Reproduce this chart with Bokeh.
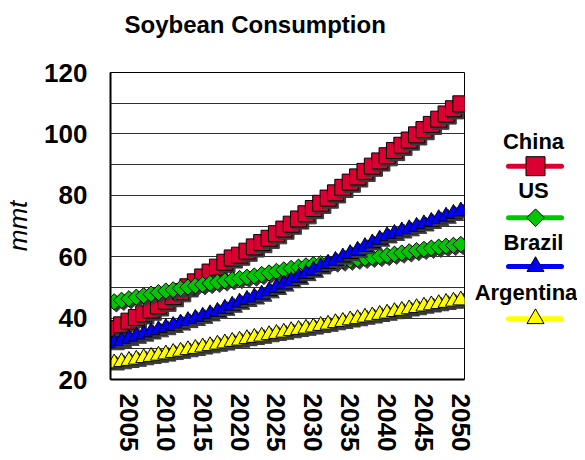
from math import pi
from bokeh.plotting import figure
from bokeh.models import Range1d, FixedTicker, ColumnDataSource
from bokeh.layouts import row
from bokeh.embed import file_html
from bokeh.resources import INLINE
from bokeh.core.properties import value

# ---------------- data ----------------
years = list(range(2003, 2051))
china = [36.6, 37.8, 39.0, 40.2, 41.4, 42.6, 44.0, 45.5, 47.0, 48.6,
         50.2, 51.8, 53.4, 55.0, 56.6, 58.2, 59.6, 60.5, 61.8, 63.2,
         64.6, 66.0, 67.5, 69.0, 70.6, 72.3, 74.0, 75.7, 77.4, 79.1,
         80.8, 82.6, 84.3, 86.0, 87.8, 89.5, 91.2, 92.9, 94.6, 96.3,
         98.0, 99.7, 101.4, 103.1, 104.8, 106.5, 108.2, 109.8]
us = [45.3, 45.8, 46.3, 46.8, 47.3, 47.8, 48.3, 48.8, 49.2, 49.7,
      50.1, 50.5, 50.9, 51.3, 51.7, 52.1, 52.5, 52.9, 53.3, 53.7,
      54.2, 54.7, 55.2, 55.7, 56.2, 56.6, 57.0, 57.4, 57.7, 58.0,
      58.3, 58.6, 58.9, 59.2, 59.5, 59.8, 60.1, 60.4, 60.8, 61.2,
      61.6, 62.0, 62.4, 62.8, 63.1, 63.4, 63.7, 64.0]
brazil = [31.9, 32.6, 33.3, 34.0, 34.7, 35.4, 36.1, 36.8, 37.5, 38.3,
          39.1, 39.8, 40.5, 41.3, 42.1, 43.1, 44.1, 45.1, 46.0, 46.8,
          47.7, 48.8, 49.9, 51.0, 52.1, 53.2, 54.4, 55.5, 56.6, 57.7,
          58.7, 59.8, 60.9, 62.0, 63.2, 64.4, 65.6, 66.7, 67.5, 68.3,
          69.0, 69.8, 70.6, 71.4, 72.3, 73.1, 74.0, 74.8]
argentina = [25.3, 25.7, 26.1, 26.5, 27.0, 27.4, 27.8, 28.2, 28.7, 29.1,
             29.6, 30.0, 30.5, 30.9, 31.4, 31.8, 32.3, 32.7, 33.2, 33.6,
             34.0, 34.5, 34.9, 35.3, 35.8, 36.2, 36.6, 37.0, 37.5, 37.9,
             38.4, 38.8, 39.3, 39.7, 40.2, 40.6, 41.1, 41.5, 42.0, 42.4,
             42.9, 43.3, 43.8, 44.2, 44.6, 45.0, 45.4, 45.8]
series_names = ["China", "US", "Brazil", "Argentina"]
series_values = [china, us, brazil, argentina]
series_colors = ["#DC0032", "#00C800", "#0000FF", "#FFFF00"]
x_ticks = list(range(2005, 2051, 5))
y_ticks = [20, 40, 60, 80, 100, 120]
grid_ticks = list(range(20, 121, 10))
title_text = "Soybean Consumption"
y_label = "mmt"

# ---------------- style ----------------
FONT = "Liberation Sans"
markers = ["square", "square", "triangle", "triangle"]
angles = [0.0, pi / 4, 0.0, 0.0]
sizes = [16, 11.5, 16, 16]
leg_sizes = [19, 12.5, 17, 17]
SHADOW = "#3a3a3a"
H = 458

p = figure(width=474, height=H,
           x_range=Range1d(2002.5, 2050.5), y_range=Range1d(20, 120),
           output_backend="svg", toolbar_location=None,
           min_border_left=102, min_border_right=10,
           min_border_top=71, min_border_bottom=79)
p.background_fill_color = "white"
p.border_fill_color = "white"
p.outline_line_color = "black"
p.outline_line_width = 1

# a blank second line lifts the title towards the top of the page
p.title.text = title_text + "\n "
p.title.text_font = FONT
p.title.text_font_size = "24px"
p.title.text_font_style = "bold"
p.title.text_color = "black"
p.title.align = "left"
p.title.offset = 14
p.title.standoff = 16
p.title.vertical_align = "bottom"

p.xgrid.grid_line_color = None
p.ygrid.ticker = FixedTicker(ticks=grid_ticks)
p.ygrid.grid_line_color = "#303030"
p.ygrid.grid_line_width = 1

for ax in (p.xaxis[0], p.yaxis[0]):
    ax.axis_line_color = "black"
    ax.axis_line_width = 2
    ax.major_tick_line_color = None
    ax.minor_tick_line_color = None
    ax.major_label_text_font = FONT
    ax.major_label_text_font_size = "26px"
    ax.major_label_text_font_style = "bold"
    ax.major_label_text_color = "black"

p.yaxis.ticker = FixedTicker(ticks=y_ticks)
p.yaxis.major_label_standoff = 17
p.yaxis.axis_label = y_label
p.yaxis.axis_label_text_font = FONT
p.yaxis.axis_label_text_font_size = "26px"
p.yaxis.axis_label_text_font_style = "italic"
p.yaxis.axis_label_text_color = "black"
p.yaxis.axis_label_standoff = 8

p.xaxis.ticker = FixedTicker(ticks=x_ticks)
p.xaxis.major_label_orientation = "vertical"
p.xaxis.major_label_standoff = 8

dx, dy = 0.3, -0.7
for vals, col, mk, ang, sz in zip(series_values, series_colors, markers, angles, sizes):
    p.line(years, vals, line_color=col, line_width=3)
    X, Y, F, L = [], [], [], []
    for x, y in zip(years, vals):
        X += [x + dx, x]
        Y += [y + dy, y]
        F += [SHADOW, col]
        L += [SHADOW, "black"]
    src = ColumnDataSource(dict(x=X, y=Y, f=F, l=L))
    p.scatter("x", "y", source=src, marker=mk, angle=ang, size=sz,
              fill_color="f", line_color="l", line_width=1)

# ---------------- legend panel (frame aligned with the main plot's frame) ----------------
LW = 103
leg = figure(width=LW, height=H, x_range=Range1d(0, LW), y_range=Range1d(380, 72),
             output_backend="svg", toolbar_location=None, min_border=0)
leg.axis.visible = False
leg.grid.visible = False
leg.outline_line_color = None
leg.background_fill_color = "white"
leg.border_fill_color = "white"

text_x = [59, 59, 59, 51.5]
text_y = [140.8, 190.8, 242.5, 293]
line_y = [166, 217.7, 266.7, 319]
for name, col, mk, ang, sz, tx, ty, ly in zip(series_names, series_colors, markers,
                                              angles, leg_sizes, text_x, text_y, line_y):
    leg.text(x=[tx], y=[ty], text=[name], text_font=value(FONT),
             text_font_size="22px", text_font_style="bold", text_color="black",
             text_align="center", text_baseline="middle")
    leg.line([34, 87], [ly, ly], line_color=col, line_width=5, line_cap="round")
    leg.scatter([61], [ly], marker=mk, angle=-ang, size=sz, fill_color=col,
                line_color="black", line_width=1)

layout = row(p, leg)
open("out.html", "w").write(file_html(layout, INLINE))
